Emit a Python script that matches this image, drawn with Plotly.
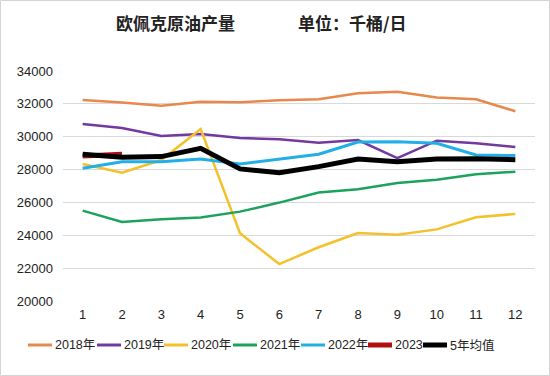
import plotly.graph_objects as go

months = [str(i) for i in range(1, 13)]
y2018 = [32230, 32090, 31890, 32130, 32100, 32220, 32280, 32640, 32740, 32380, 32280, 31550]
y2019 = [30770, 30530, 30040, 30160, 29920, 29840, 29640, 29800, 28690, 29760, 29600, 29370]
y2020 = [28340, 27810, 28580, 30470, 24120, 22250, 23270, 24140, 24040, 24360, 25100, 25300]
y2021 = [25500, 24810, 24970, 25090, 25440, 25990, 26600, 26800, 27180, 27380, 27710, 27870]
y2022 = [28080, 28480, 28480, 28640, 28340, 28620, 28930, 29680, 29700, 29600, 28890, 28850]
y2023 = [28830, 28930]
avg5 = [28930, 28750, 28790, 29290, 28040, 27810, 28180, 28640, 28480, 28640, 28660, 28600]

names = ["2018年", "2019年", "2020年", "2021年", "2022年", "2023", "5年均值"]
values = [y2018, y2019, y2020, y2021, y2022, y2023, avg5]
colors = ["#E8884A", "#7239A0", "#F4C12C", "#1BA35B", "#22AEE6", "#B00F0F", "#000000"]
widths = [2.5, 2.5, 2.5, 2.5, 3, 5, 5]

W, H = 550, 376
L, R, T, B = 63, 15, 71, 75
PW, PH = W - L - R, H - T - B


def px(x):
    return (x - L) / PW


def py(y):
    return 1 - (y - T) / PH


fig = go.Figure()
for name, vals, color, w in zip(names, values, colors, widths):
    fig.add_trace(go.Scatter(x=months[:len(vals)], y=vals, name=name, mode="lines",
                             line=dict(color=color, width=w), showlegend=False))

# manual legend (one row, short line symbols)
legend_x = [28, 97, 164, 233, 301, 368, 423]
legend_y = 345
shapes = []
annotations = []
for name, color, w, lx in zip(names, colors, widths, legend_x):
    shapes.append(dict(type="line", xref="paper", yref="paper",
                       x0=px(lx), x1=px(lx + 24), y0=py(legend_y), y1=py(legend_y),
                       line=dict(color=color, width=max(w, 3))))
    annotations.append(dict(text=name, xref="paper", yref="paper", x=px(lx + 25), y=py(legend_y),
                            xanchor="left", yanchor="middle", showarrow=False,
                            font=dict(size=12.5, color="#222")))

title_font = dict(size=17, color="#222", family="Noto Sans CJK SC, sans-serif")
annotations.append(dict(text="<b>欧佩克原油产量</b>", xref="paper", yref="paper", x=px(175), y=py(22),
                        xanchor="center", yanchor="middle", showarrow=False, font=title_font))
annotations.append(dict(text="<b>单位：千桶/日</b>", xref="paper", yref="paper", x=px(352), y=py(22),
                        xanchor="center", yanchor="middle", showarrow=False, font=title_font))

shapes.append(dict(type="rect", xref="paper", yref="paper",
                   x0=px(0.5), x1=px(549.5), y0=py(375.5), y1=py(0.5),
                   line=dict(color="#d4d4d4", width=1), fillcolor="rgba(0,0,0,0)", layer="below"))

font_family = "Liberation Sans, Noto Sans CJK SC, sans-serif"
fig.update_layout(
    width=W, height=H,
    margin=dict(l=L, r=R, t=T, b=B, autoexpand=False),
    paper_bgcolor="white", plot_bgcolor="white",
    font=dict(family=font_family, size=12, color="#222"),
    xaxis=dict(type="category", range=[-0.5, 11.5], showgrid=False, showline=False,
               ticks="", ticklabelstandoff=4, tickfont=dict(size=13, color="#222")),
    yaxis=dict(range=[20000, 34000], dtick=2000, showgrid=True, gridcolor="#d9d9d9",
               gridwidth=1, zeroline=False, showline=False, tickformat="d",
               ticks="", ticklabelstandoff=9, tickfont=dict(size=13, color="#222")),
    showlegend=False,
    annotations=annotations,
    shapes=shapes,
)

fig.write_html("out.html", config={"displayModeBar": False},
               post_script="document.body.style.margin='0';")
